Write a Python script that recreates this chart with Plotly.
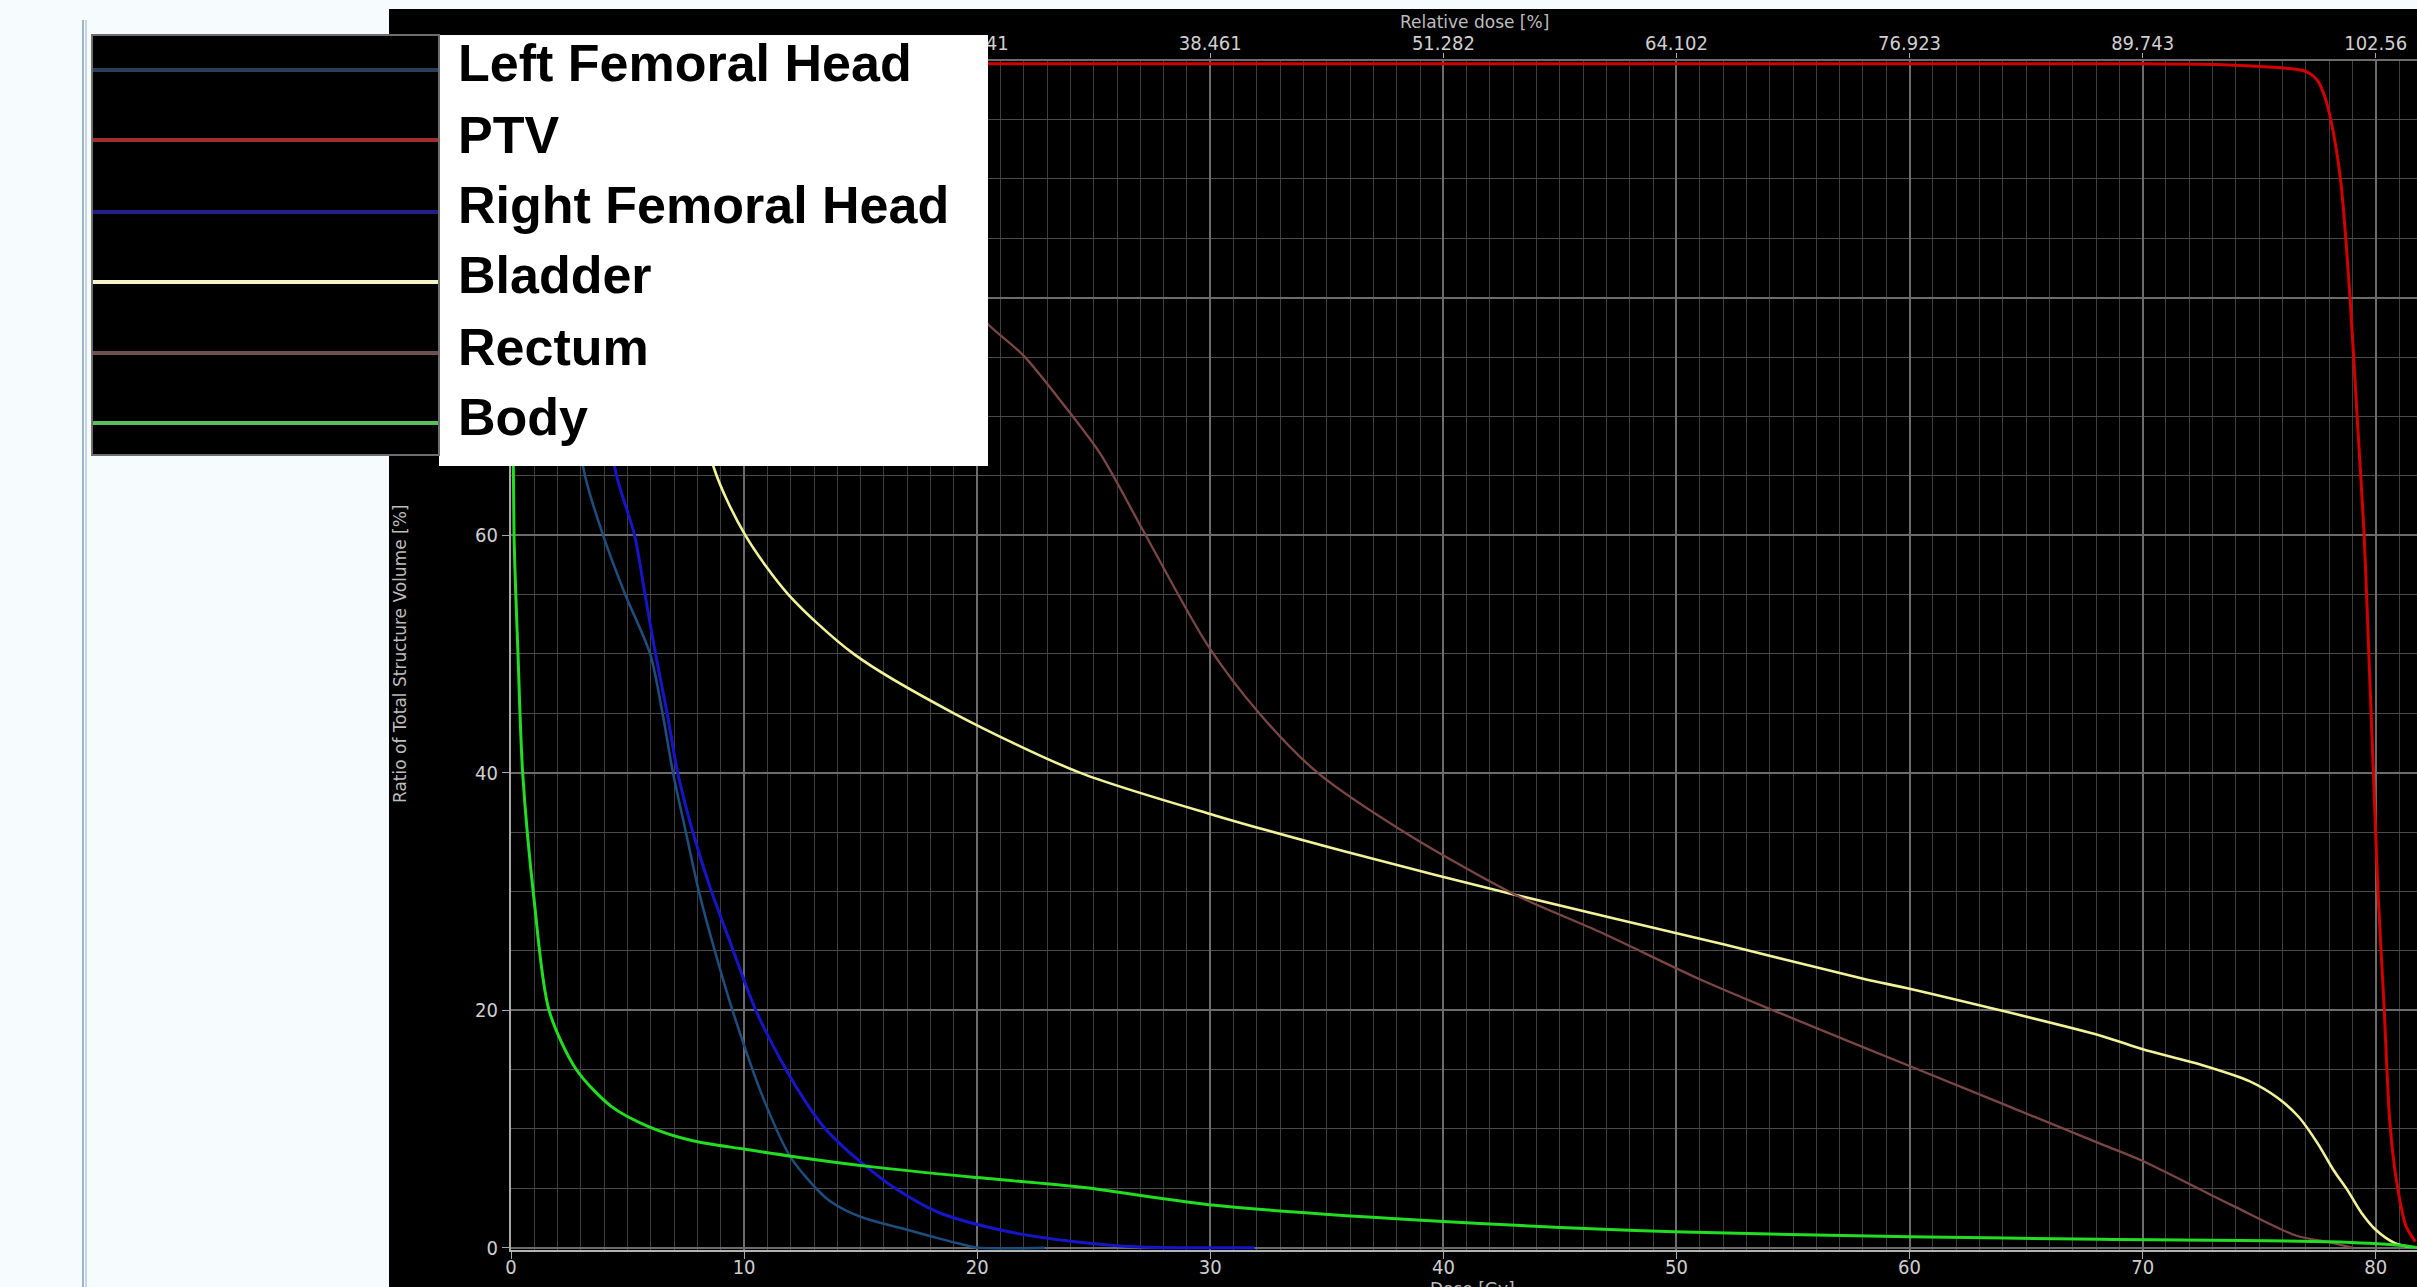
import plotly.graph_objects as go

# ---------------- data ----------------
STRUCTURES = ["Left Femoral Head", "PTV", "Right Femoral Head", "Bladder", "Rectum", "Body"]
PRESCRIPTION_GY = 78.0

lfh_dose = [0, 1.0, 1.8, 2.4, 3.1, 3.95, 4.9, 5.97, 6.5, 6.95, 7.5, 8.06, 8.6, 9.5, 10.86, 12.0, 13.5, 14.4, 15.45, 17.0, 18.3, 19.3, 20.0, 22.9]
lfh_vol = [100, 99, 95, 82, 65.7, 60, 55, 50, 45, 40, 35, 30, 26, 20, 12.4, 7.6, 4.2, 3.1, 2.3, 1.5, 0.8, 0.3, 0, 0]

ptv_dose = [0, 10, 20, 30, 40, 50, 60, 70, 72.5, 74.7, 76.5, 77.07, 77.5, 77.8, 78.07, 78.5, 78.9, 79.2, 79.5, 79.7, 79.9, 80.1, 80.35, 80.6, 80.9, 81.3, 81.7]
ptv_vol = [99.7, 99.7, 99.7, 99.7, 99.7, 99.7, 99.7, 99.7, 99.65, 99.5, 99.25, 99.0, 98.3, 97.0, 95.0, 89.8, 79.9, 70.0, 60.1, 50.2, 40.0, 29.8, 20.6, 10.7, 5.5, 1.8, 0.5]

rfh_dose = [0, 1.5, 2.5, 3.2, 3.8, 4.45, 5.3, 5.75, 6.2, 6.7, 7.15, 7.8, 8.6, 9.35, 10.5, 11.8, 12.6, 13.4, 14.3, 15.2, 16.4, 18.3, 21.2, 24.2, 27.0, 31.9]
rfh_vol = [100, 99, 97, 92, 80, 65.7, 60, 55, 50, 45, 40, 35, 30, 26, 20, 15, 12.4, 10.2, 8.4, 6.9, 5.1, 3.0, 1.4, 0.5, 0.05, 0]

bladder_dose = [0, 2, 4, 6, 7.5, 8.7, 10.05, 11.9, 14.7, 19.0, 24.4, 30.2, 35.7, 43.1, 52.1, 58.1, 60, 68.2, 70, 72.5, 74.6, 75.8, 76.7, 77.5, 78.2, 78.8, 79.4, 80.0, 80.8, 81.5]
bladder_vol = [100, 99.5, 97, 90, 78, 65.7, 60, 55, 50, 45, 40, 36.4, 33.4, 29.7, 25.5, 22.6, 21.8, 17.85, 16.7, 15.4, 14.0, 12.6, 11.0, 8.8, 6.5, 4.8, 2.9, 1.5, 0.4, 0.05]

rectum_dose = [0, 5, 10, 14, 17, 19, 20.5, 22.0, 23.9, 25.3, 27.2, 29.9, 32.1, 34.6, 38.4, 43.1, 46.7, 51.0, 54.0, 60.0, 68.2, 70, 73.8, 76.6, 77.9, 79.0]
rectum_vol = [100, 99.5, 97, 92, 86, 81, 77.7, 75.1, 70.5, 66.8, 60.1, 50.7, 45.0, 40.0, 34.9, 29.7, 26.6, 22.6, 20.1, 15.3, 8.74, 7.3, 3.6, 1.0, 0.5, 0.0]

body_dose = [0, 0.05, 0.13, 0.3, 0.5, 0.99, 1.63, 2.8, 4.3, 5.9, 7.8, 10, 12, 15.5, 20, 24.4, 30.2, 40, 49.9, 60, 68.2, 78, 81, 81.8]
body_vol = [100, 80, 60, 50, 40, 29.3, 20, 15, 11.9, 10.2, 9.0, 8.3, 7.7, 6.8, 5.9, 5.1, 3.56, 2.2, 1.34, 0.92, 0.7, 0.5, 0.2, 0.0]

X_TICKS = [0, 10, 20, 30, 40, 50, 60, 70, 80]
Y_TICKS = [0, 20, 40, 60, 80, 100]
REL_TICK_LABELS = ["0", "12.82", "25.641", "38.461", "51.282", "64.102", "76.923", "89.743", "102.56"]

# ---------------- styling ----------------
TRACE_COLORS = ["#1d4e7e", "#d40000", "#1616c8", "#f2f29a", "#7b4646", "#22dd22"]
TRACE_WIDTHS = [2.5, 3, 3, 2.6, 2.3, 3]
TRACE_SMOOTH = [0.8, 0.7, 0.8, 0.8, 0.8, 0.8]
LEGEND_COLORS = ["#28405a", "#a03030", "#202088", "#f4f4c8", "#6e5050", "#58c058"]

W, H = 2417, 1287
L, T, B, R = 511, 59, 37, 0
PW, PH = W - L - R, H - T - B
X_MAX = 81.77


def px(xp):
    return (xp - L) / PW


def py(yp):
    return (H - B - yp) / PH


series = [
    (lfh_dose, lfh_vol), (ptv_dose, ptv_vol), (rfh_dose, rfh_vol),
    (bladder_dose, bladder_vol), (rectum_dose, rectum_vol), (body_dose, body_vol),
]

fig = go.Figure()
for name, (d, v), c, w, s in zip(STRUCTURES, series, TRACE_COLORS, TRACE_WIDTHS, TRACE_SMOOTH):
    fig.add_trace(go.Scatter(x=d, y=v, mode="lines", name=name,
                             line=dict(color=c, width=w, shape="spline", smoothing=s),
                             showlegend=False, hoverinfo="skip"))

# invisible copy of the PTV curve on the relative-dose axis so the top axis is drawn
fig.add_trace(go.Scatter(x=[d * 100 / PRESCRIPTION_GY for d in ptv_dose], y=ptv_vol,
                         xaxis="x2", yaxis="y", mode="lines", opacity=0,
                         line=dict(width=0), showlegend=False, hoverinfo="skip"))

tick_font = dict(family="DejaVu Sans Condensed, Liberation Sans Narrow, sans-serif", size=20, color="#cfcfcf")
title_font = dict(family="DejaVu Sans, sans-serif", size=17, color="#bdbdbd")

shapes = []
# black chart background
shapes.append(dict(type="rect", xref="paper", yref="paper", layer="below",
                   x0=px(389), x1=px(W + 20), y0=py(H + 20), y1=py(9),
                   fillcolor="#000000", line=dict(width=0)))
# left border lines
shapes.append(dict(type="line", xref="paper", yref="paper", layer="above",
                   x0=px(83), x1=px(83), y0=py(20), y1=py(H + 20),
                   line=dict(color="#9fb4c6", width=2)))
shapes.append(dict(type="line", xref="paper", yref="paper", layer="above",
                   x0=px(86), x1=px(86), y0=py(20), y1=py(H + 20),
                   line=dict(color="#c6d6e2", width=2)))
# legend boxes
shapes.append(dict(type="rect", xref="paper", yref="paper", layer="above",
                   x0=px(439), x1=px(988), y0=py(466), y1=py(35),
                   fillcolor="#ffffff", line=dict(width=0)))
shapes.append(dict(type="rect", xref="paper", yref="paper", layer="above",
                   x0=px(92), x1=px(439), y0=py(455), y1=py(35),
                   fillcolor="#000000", line=dict(color="#6e6e6e", width=2)))

legend_line_y = [70, 140, 212, 282, 353, 423]
legend_text_y = [63, 135, 205, 275, 347, 417]
annotations = []
for name, lc, ly, ty in zip(STRUCTURES, LEGEND_COLORS, legend_line_y, legend_text_y):
    shapes.append(dict(type="line", xref="paper", yref="paper", layer="above",
                       x0=px(93), x1=px(438), y0=py(ly), y1=py(ly),
                       line=dict(color=lc, width=4)))
    annotations.append(dict(xref="paper", yref="paper", x=px(456), y=py(ty),
                            xanchor="left", yanchor="middle", showarrow=False,
                            text=name,
                            font=dict(family="Liberation Sans, Arial, sans-serif", size=52,
                                      color="#000000", weight="bold")))

annotations.append(dict(xref="paper", yref="paper", x=px(1474), y=py(22),
                        xanchor="center", yanchor="middle", showarrow=False,
                        text="Relative dose [%]", font=title_font))
annotations.append(dict(xref="paper", yref="paper", x=px(1472), y=py(1277),
                        xanchor="center", yanchor="top", showarrow=False,
                        text="Dose [Gy]", font=title_font))
annotations.append(dict(xref="paper", yref="paper", x=px(400), y=py(654),
                        xanchor="center", yanchor="middle", showarrow=False, textangle=-90,
                        text="Ratio of Total Structure Volume [%]", font=title_font))

fig.update_layout(
    width=W, height=H,
    margin=dict(l=L, r=R, t=T, b=B, pad=0),
    paper_bgcolor="#f6fbfe",
    plot_bgcolor="#000000",
    showlegend=False,
    shapes=shapes,
    annotations=annotations,
    xaxis=dict(range=[0, X_MAX], tickvals=X_TICKS, ticks="outside", ticklen=7,
               tickcolor="#aaaaaa", tickwidth=1, tickfont=tick_font, ticklabelstandoff=-9,
               showgrid=True, gridcolor="#6c6c6c", gridwidth=1.5,
               minor=dict(dtick=1, tick0=0, showgrid=True, gridcolor="#3e3e3e", gridwidth=1, ticks=""),
               showline=True, linecolor="#b4b4b4", linewidth=2, zeroline=False,
               automargin=False, fixedrange=True),
    xaxis2=dict(overlaying="x", side="top", anchor="y",
                range=[0, X_MAX * 100 / PRESCRIPTION_GY],
                tickvals=[float(s) for s in REL_TICK_LABELS], ticktext=REL_TICK_LABELS,
                ticks="outside", ticklen=5, tickcolor="#aaaaaa", tickfont=tick_font,
                ticklabelstandoff=-5,
                showgrid=False, showline=False, zeroline=False, automargin=False,
                fixedrange=True),
    yaxis=dict(range=[-0.2, 100.1], tickvals=Y_TICKS, ticks="outside", ticklen=7,
               tickcolor="#aaaaaa", tickfont=tick_font,
               showgrid=True, gridcolor="#6c6c6c", gridwidth=1.5,
               minor=dict(dtick=5, tick0=0, showgrid=True, gridcolor="#4a4a4a", gridwidth=1, ticks=""),
               showline=True, linecolor="#a8a8a8", linewidth=2, zeroline=False,
               automargin=False, fixedrange=True),
)

fig.write_html("out.html", config={"displayModeBar": False},
               post_script="document.body.style.margin='0px';document.body.style.overflow='hidden';")
